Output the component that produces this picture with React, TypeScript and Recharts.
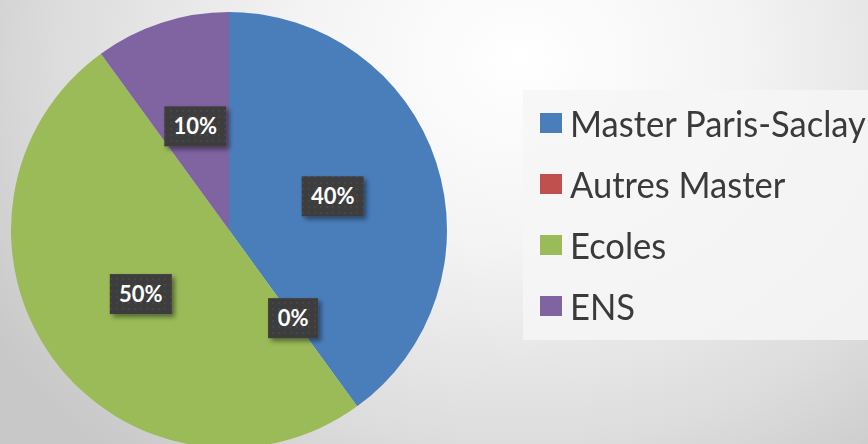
import { Legend, Pie, PieChart, Cell } from "recharts";

const categories = ["Master Paris-Saclay", "Autres Master", "Ecoles", "ENS"];
const values = [40, 0, 50, 10];
const colors = ["#4a7ebb", "#c0504d", "#9bbb59", "#8064a2"];

const data = categories.map((name, i) => ({ name, value: values[i] }));

const RAD = Math.PI / 180;

function renderLabel(props: any) {
  const { cx, cy, midAngle, outerRadius, percent, index } = props;
  const r = outerRadius * 0.5;
  const x = cx + r * Math.cos(-midAngle * RAD);
  const y = cy + r * Math.sin(-midAngle * RAD);
  const text = `${Math.round(percent * 100)}%`;
  const w = text.length > 2 ? 62 : 50;
  const h = 40;
  return (
    <g key={`lbl-${index}`}>
      <rect
        x={x - w / 2}
        y={y - h / 2}
        width={w}
        height={h}
        fill="#3c3c3c"
        filter="url(#lblShadow)"
      />
      <rect x={x - w / 2} y={y - h / 2} width={w} height={h} fill="url(#dots)" />
      <text
        x={x}
        y={y + 8}
        textAnchor="middle"
        fill="#ffffff"
        fontFamily="Lato, 'Open Sans', sans-serif"
        fontWeight="bold"
        fontSize={22}
      >
        {text}
      </text>
    </g>
  );
}

function LegendBox() {
  return (
    <div
      style={{
        width: 345,
        height: 250,
        background: "rgba(246,246,246,0.85)",
        paddingTop: 2,
        boxSizing: "border-box",
      }}
    >
      {categories.map((c, i) => (
        <div
          key={c}
          style={{ display: "flex", alignItems: "center", height: 61, paddingLeft: 17 }}
        >
          <span
            style={{
              display: "inline-block",
              flexShrink: 0,
              width: 22,
              height: 20,
              background: colors[i],
              marginRight: 8,
            }}
          />
          <span
            style={{
              fontFamily: "Lato, 'Open Sans', sans-serif",
              fontSize: 36,
              color: "#3a3a3a",
              whiteSpace: "nowrap",
              display: "inline-block",
              transformOrigin: "left center",
              transform: "scaleX(0.96)",
            }}
          >
            {c}
          </span>
        </div>
      ))}
    </div>
  );
}

export default function App() {
  return (
    <div
      style={{
        position: "absolute",
        left: 0,
        top: 0,
        width: 868,
        height: 444,
        overflow: "hidden",
        background:
          "radial-gradient(ellipse 620px 520px at 520px 60px, #ffffff 0%, #f4f4f4 35%, #dcdcdc 75%, #c8c8c8 100%)",
      }}
    >
      <PieChart width={868} height={444} margin={{ top: 0, right: 0, bottom: 0, left: 0 }}>
        <defs>
          <pattern id="dots" width="6" height="6" patternUnits="userSpaceOnUse">
            <circle cx="3" cy="3" r="0.8" fill="#525252" />
          </pattern>
          <filter id="lblShadow" x="-20%" y="-20%" width="150%" height="150%">
            <feDropShadow dx="3" dy="3" stdDeviation="2.5" floodColor="#000" floodOpacity="0.45" />
          </filter>
        </defs>
        <Pie
          data={data}
          dataKey="value"
          nameKey="name"
          cx={229}
          cy={230}
          outerRadius={218}
          startAngle={90}
          endAngle={-270}
          stroke="none"
          labelLine={false}
          label={renderLabel}
          isAnimationActive={false}
        >
          {data.map((d, i) => (
            <Cell key={d.name} fill={colors[i]} />
          ))}
        </Pie>
        <Legend
          content={() => <LegendBox />}
          wrapperStyle={{ position: "absolute", left: 523, top: 90, width: 345 }}
        />
      </PieChart>
    </div>
  );
}
